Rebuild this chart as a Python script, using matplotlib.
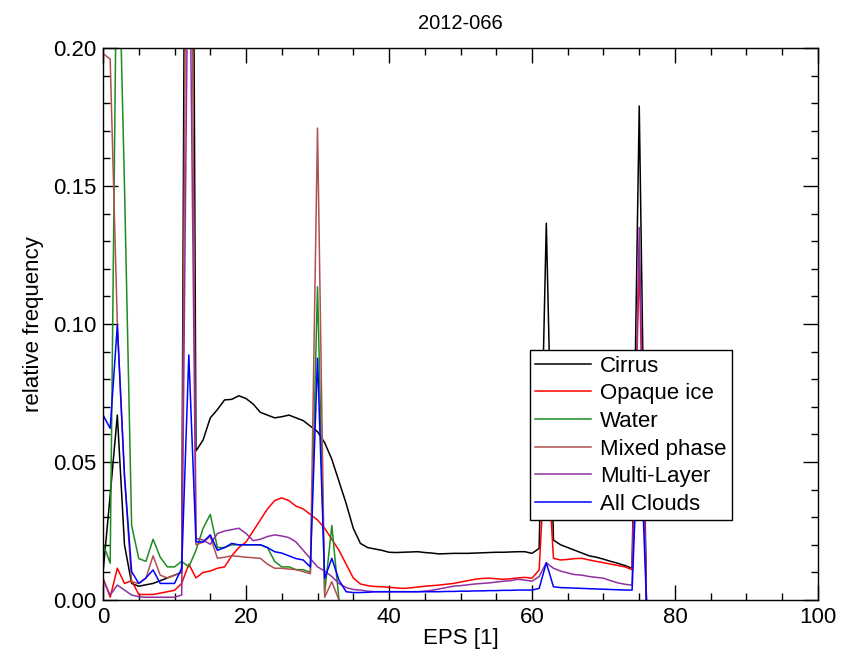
import numpy as np
import matplotlib
matplotlib.use("Agg")
import matplotlib.pyplot as plt
from matplotlib.ticker import MultipleLocator

plt.rcParams['font.family'] = ['Liberation Sans', 'DejaVu Sans']

title = "2012-066"
labels = ["Cirrus", "Opaque ice", "Water", "Mixed phase", "Multi-Layer", "All Clouds"]
colors = ["black", "#ff0000", "#1e8c1e", "#b05050", "#9030a0", "#0000ff"]

# EPS bins 0..76
cirrus = [0.010, 0.038, 0.067, 0.020, 0.006, 0.005, 0.0055, 0.006, 0.007, 0.008,
          0.009, 0.010, 0.60, 0.054, 0.058, 0.066, 0.069, 0.0725, 0.0727, 0.074,
          0.073, 0.071, 0.068, 0.067, 0.066, 0.0664, 0.067, 0.066, 0.065, 0.063,
          0.061, 0.057, 0.051, 0.043, 0.035, 0.026, 0.0205, 0.019, 0.0185, 0.018,
          0.0173, 0.0172, 0.0173, 0.0174, 0.0175, 0.0172, 0.017, 0.0167, 0.0168, 0.0169,
          0.0169, 0.0169, 0.017, 0.0171, 0.0172, 0.0173, 0.0173, 0.0174, 0.0175, 0.0175,
          0.0169, 0.0187, 0.1365, 0.0217, 0.020, 0.019, 0.018, 0.017, 0.016, 0.0155,
          0.0148, 0.014, 0.0133, 0.0125, 0.0115, 0.179, 0.0]

opaque = [0.008, 0.001, 0.0115, 0.006, 0.007, 0.002, 0.002, 0.002, 0.0025, 0.003,
          0.0035, 0.006, 0.013, 0.008, 0.010, 0.0105, 0.0115, 0.012, 0.016, 0.019,
          0.021, 0.025, 0.029, 0.033, 0.036, 0.037, 0.036, 0.034, 0.033, 0.031,
          0.029, 0.026, 0.022, 0.018, 0.013, 0.008, 0.0058, 0.0052, 0.0049, 0.0048,
          0.0046, 0.0044, 0.0042, 0.0044, 0.0047, 0.005, 0.0052, 0.0054, 0.0057, 0.006,
          0.0065, 0.007, 0.0075, 0.0078, 0.0079, 0.0077, 0.0075, 0.0077, 0.008, 0.0082,
          0.0079, 0.0109, 0.060, 0.0151, 0.0145, 0.0147, 0.015, 0.0151, 0.0145, 0.014,
          0.0135, 0.013, 0.0125, 0.012, 0.011, 0.124, 0.0]

water = [0.0205, 0.0133, 0.26, 0.15, 0.027, 0.015, 0.014, 0.022, 0.0155, 0.012,
         0.012, 0.014, 0.012, 0.018, 0.026, 0.031, 0.019, 0.019, 0.020, 0.020,
         0.020, 0.020, 0.020, 0.019, 0.014, 0.012, 0.012, 0.011, 0.011, 0.010,
         0.1135, 0.0025, 0.027, 0.0]

mixed = [0.198, 0.196, 0.100, 0.045, 0.0066, 0.006, 0.0079, 0.016, 0.009, 0.008,
         0.009, 0.010, 0.40, 0.020, 0.021, 0.023, 0.0151, 0.0155, 0.016, 0.0158,
         0.0155, 0.0153, 0.0151, 0.013, 0.0115, 0.0115, 0.0112, 0.011, 0.0103, 0.0095,
         0.171, 0.001, 0.0066, 0.0]

multi = [0.0072, 0.0018, 0.0054, 0.0036, 0.0018, 0.0012, 0.001, 0.001, 0.001, 0.001,
         0.001, 0.0018, 0.27, 0.0223, 0.0217, 0.0202, 0.0241, 0.025, 0.0255, 0.026,
         0.0241, 0.0215, 0.022, 0.023, 0.0236, 0.0232, 0.0226, 0.021, 0.018, 0.015,
         0.012, 0.0105, 0.0085, 0.006, 0.0045, 0.0038, 0.0036, 0.0032, 0.003, 0.003,
         0.003, 0.003, 0.003, 0.003, 0.003, 0.0032, 0.0035, 0.004, 0.0045, 0.005,
         0.0052, 0.0055, 0.0058, 0.006, 0.0062, 0.0065, 0.0068, 0.007, 0.0075, 0.0072,
         0.0068, 0.0085, 0.0135, 0.0115, 0.0105, 0.0098, 0.0092, 0.009, 0.0085, 0.0082,
         0.0079, 0.007, 0.0062, 0.0057, 0.0054, 0.135, 0.0]

allclouds = [0.067, 0.0622, 0.0996, 0.045, 0.0103, 0.006, 0.008, 0.0109, 0.006, 0.006,
             0.006, 0.0115, 0.0888, 0.0211, 0.021, 0.0236, 0.018, 0.019, 0.0205, 0.020,
             0.020, 0.020, 0.020, 0.019, 0.0175, 0.017, 0.016, 0.015, 0.0145, 0.012,
             0.0876, 0.0078, 0.0151, 0.0072, 0.003, 0.0027, 0.0027, 0.0028, 0.003, 0.003,
             0.003, 0.003, 0.003, 0.003, 0.003, 0.003, 0.003, 0.003, 0.0031, 0.0031,
             0.0032, 0.0032, 0.0033, 0.0033, 0.0034, 0.0034, 0.0035, 0.0035, 0.0036, 0.0036,
             0.0036, 0.0042, 0.0135, 0.0048, 0.0045, 0.0044, 0.0043, 0.0042, 0.0041, 0.004,
             0.0039, 0.0038, 0.0037, 0.0036, 0.0036, 0.070, 0.0]

series = [cirrus, opaque, water, mixed, multi, allclouds]

fig = plt.figure(figsize=(8.48, 6.49), dpi=100)
ax = fig.add_axes([0.1215, 0.0755, 0.8431, 0.8505])

for vals, col, lab in zip(series, colors, labels):
    ax.plot(np.arange(len(vals)), vals, color=col, linewidth=1.1, label=lab)

ax.set_xlim(0, 100)
ax.set_ylim(0, 0.20)
ax.xaxis.set_major_locator(MultipleLocator(20))
ax.xaxis.set_minor_locator(MultipleLocator(5))
ax.yaxis.set_major_locator(MultipleLocator(0.05))
ax.yaxis.set_minor_locator(MultipleLocator(0.01))
ax.yaxis.set_major_formatter(matplotlib.ticker.FormatStrFormatter('%.2f'))
ax.tick_params(which='both', direction='in', top=True, right=True, labelsize=16, width=1.0)
ax.tick_params(which='major', length=10.5, pad=5)
ax.tick_params(which='minor', length=5.2)
for sp in ax.spines.values():
    sp.set_linewidth(1.0)

ax.set_xlabel("EPS [1]", fontsize=16, labelpad=0)
ax.set_ylabel("relative frequency", fontsize=16, labelpad=6)
ax.set_title(title, fontsize=14.5, pad=14)

leg = ax.legend(loc='upper left', bbox_to_anchor=(0.597, 0.453), fontsize=16,
                frameon=True, fancybox=False, edgecolor='black', framealpha=1,
                handlelength=2.5, handletextpad=0.4, labelspacing=0.3,
                borderpad=0.25, borderaxespad=0)
leg.get_frame().set_linewidth(1.0)

fig.savefig("out.png", dpi=100)
